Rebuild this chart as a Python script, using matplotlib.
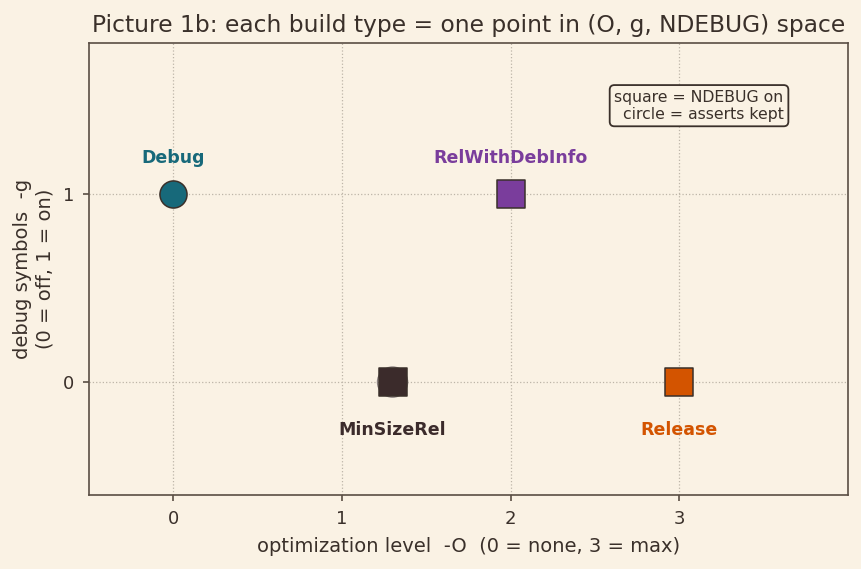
import matplotlib
matplotlib.use("Agg")
import matplotlib.pyplot as plt

# build types and their coordinates in (O, g, NDEBUG) space
names = ["Debug", "RelWithDebInfo", "MinSizeRel", "Release"]
opt_level = [0, 2, 1.3, 3]
debug_sym = [1, 1, 0, 0]
ndebug = [False, True, True, True]
colors = ["#17697a", "#7a3d9c", "#3b2b2b", "#d35400"]

bg = "#faf2e4"
ink = "#3a302a"

fig, ax = plt.subplots(figsize=(8.62, 5.69), dpi=100)
fig.patch.set_facecolor(bg)
ax.set_facecolor(bg)

# faint circle behind MinSizeRel
ax.scatter([1.3], [0], s=470, marker="o", facecolors="none",
           edgecolors="#8a8080", linewidths=1.0, zorder=2)

for n, x, y, nd, c in zip(names, opt_level, debug_sym, ndebug, colors):
    m = "s" if nd else "o"
    ax.scatter([x], [y], s=400 if nd else 380, marker=m, color=c,
               edgecolors=ink, linewidths=1.1, zorder=3)
    ty = y + 0.19 if y == 1 else y - 0.255
    ax.text(x, ty, n, color=c, fontsize=12.5, fontweight="bold",
            ha="center", va="center")

ax.set_xlim(-0.5, 4.0)
ax.set_ylim(-0.6, 1.8)
ax.set_xticks([0, 1, 2, 3])
ax.set_yticks([0, 1])
ax.grid(True, linestyle=":", color="#bdb5a8", linewidth=0.9)
ax.set_axisbelow(True)

for s in ax.spines.values():
    s.set_color("#5a4e44")
    s.set_linewidth(1.2)
ax.tick_params(colors=ink, labelsize=13, color="#5a4e44", width=1.2, length=4.5, pad=6)

ax.set_xlabel("optimization level  -O  (0 = none, 3 = max)", fontsize=14, color=ink, labelpad=7)
ax.set_ylabel("debug symbols  -g\n(0 = off, 1 = on)", fontsize=14, color=ink, labelpad=6)
ax.set_title("Picture 1b: each build type = one point in (O, g, NDEBUG) space",
             fontsize=16.8, color=ink, pad=8)

ax.text(0.915, 0.897, "square = NDEBUG on\ncircle = asserts kept",
        transform=ax.transAxes, ha="right", va="top", multialignment="right",
        fontsize=11.3, color=ink, linespacing=1.15,
        bbox=dict(boxstyle="round,pad=0.3", facecolor=bg, edgecolor=ink, linewidth=1.3))

fig.subplots_adjust(left=0.103, right=0.984, top=0.924, bottom=0.13)
fig.savefig("out.png", dpi=100, facecolor=bg)
